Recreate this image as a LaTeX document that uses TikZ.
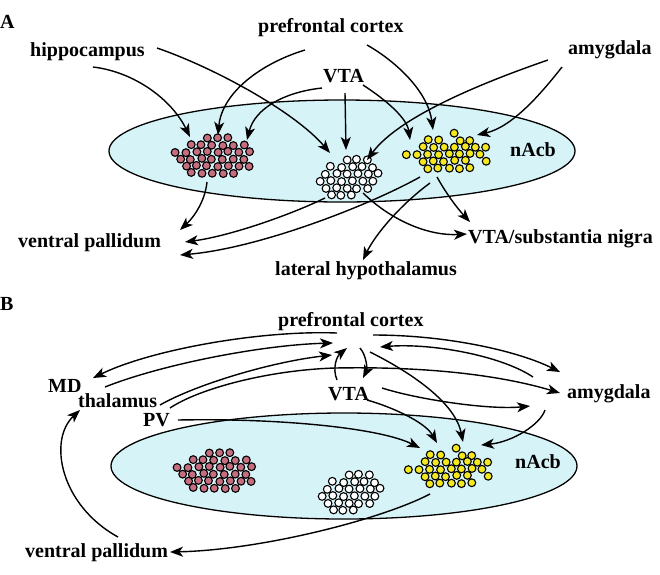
\documentclass[tikz,border=0pt]{standalone}
\usepackage{fontspec}
\setmainfont{Liberation Serif}
\usetikzlibrary{arrows.meta}
\definecolor{nacbfill}{RGB}{214,243,248}
\definecolor{reddot}{RGB}{198,110,128}
\definecolor{yeldot}{RGB}{245,232,30}
\tikzset{
 lbl/.style={font=\fontsize{20}{24}\selectfont\bfseries, inner sep=0pt, anchor=base west},
 arr/.style={line width=1.4pt, -{Stealth[length=13pt,width=10pt,inset=3.5pt]}},
 nacbshape/.style={fill=nacbfill, draw=black, line width=1.3pt},
 celldot/.style={draw=black, line width=1.1pt},
}
\newcommand{\mycellrow}[3]{%
 \foreach \cx in {#3} {\pgfmathsetmacro\jx{\cx+0.9*rand}\pgfmathsetmacro\jy{#2+0.8*rand}
 \draw[celldot, fill=#1] (\jx,\jy) circle[radius=3.9pt];}}
\newcommand{\myredcluster}{\pgfmathsetseed{11}%
 \mycellrow{reddot}{-17}{-5.25,5.25,15.75}
 \mycellrow{reddot}{-10}{-21,-10.5,0,10.5,21,31.5}
 \mycellrow{reddot}{-3}{-36.75,-26.25,-15.75,-5.25,5.25,15.75,26.25,36.75}
 \mycellrow{reddot}{4}{-31.5,-21,-10.5,0,10.5,21,31.5}
 \mycellrow{reddot}{11}{-26.25,-15.75,-5.25,5.25,15.75,26.25,36.75}
 \mycellrow{reddot}{18}{-21,-10.5,0,10.5,21}}
\newcommand{\mywhitecluster}{\pgfmathsetseed{5}%
 \mycellrow{white}{-17}{-5.25,5.25,15.75}
 \mycellrow{white}{-10}{-21,-10.5,0,10.5,21}
 \mycellrow{white}{-3}{-26.25,-15.75,-5.25,5.25,15.75,26.25}
 \mycellrow{white}{4}{-31.5,-21,-10.5,0,10.5,21}
 \mycellrow{white}{11}{-26.25,-15.75,-5.25,5.25,15.75}
 \mycellrow{white}{18}{-21,-10.5,0}}
\newcommand{\myyellowcluster}{\pgfmathsetseed{7}%
 \mycellrow{yeldot}{-18}{5.25}
 \mycellrow{yeldot}{-11}{-21,-10.5,10.5,21}
 \mycellrow{yeldot}{-4}{-26.25,-15.75,-5.25,5.25,15.75,26.25,36.75}
 \mycellrow{yeldot}{3}{-42,-31.5,-21,-10.5,0,10.5,21,31.5}
 \mycellrow{yeldot}{10}{-26.25,-15.75,-5.25,5.25,15.75,36.75}
 \mycellrow{yeldot}{17}{-21,-10.5,0,10.5,21}}
\begin{document}
\begin{tikzpicture}[x=1pt,y=-1pt]
\useasboundingbox (0,0) rectangle (660,574);
\fill[white] (0,0) rectangle (660,574);
% ===== Panel A =====
\draw[nacbshape] (342,151) ellipse [x radius=233pt, y radius=51pt];
\begin{scope}[shift={(212,155)}]\myredcluster\end{scope}
\begin{scope}[shift={(352,177)}]\mywhitecluster\end{scope}
\begin{scope}[shift={(449,151)}]\myyellowcluster\end{scope}

\node[lbl] (labA) at (0,28) {A};
\node[lbl] (pfcA) at (258,32) {prefrontal cortex};
\node[lbl] (hipA) at (30,56) {hippocampus};
\node[lbl] (amyA) at (568,54) {amygdala};
\node[lbl] (vtaA) at (323,82) {VTA};
\node[lbl] (nacbA) at (510,156) {nAcb};
\node[lbl] (vpA) at (18,247) {ventral pallidum};
\node[lbl] (vtasnA) at (468,243) {VTA/substantia nigra};
\node[lbl] (lhA) at (275,275) {lateral hypothalamus};

\coordinate (hipAa) at (93,67);   \coordinate (redAa) at (190,137);
\coordinate (hipAb) at (157,48);  \coordinate (whtAa) at (330,153);
\coordinate (pfcAa) at (305,50);  \coordinate (redAb) at (218,135);
\coordinate (vtaAa) at (322,88);  \coordinate (redAc) at (247,140);
\coordinate (vtaAb) at (345,93);  \coordinate (whtAb) at (346,150);
\coordinate (vtaAc) at (363,85);  \coordinate (yelAa) at (410,140);
\coordinate (pfcAb) at (367,45);  \coordinate (yelAb) at (433,130);
\coordinate (amyAa) at (548,60);  \coordinate (whtAc) at (367,160);
\coordinate (amyAb) at (562,67);  \coordinate (yelAc) at (477,135);
\coordinate (whtAd) at (363,193); \coordinate (snAa) at (467,234);
\coordinate (yelAd) at (437,177); \coordinate (snAb) at (470,222);
\coordinate (yelAe) at (430,183); \coordinate (lhAa) at (363,260);
\coordinate (whtAe) at (325,198); \coordinate (vpAa) at (185,242);
\coordinate (yelAf) at (420,177); \coordinate (vpAb) at (180,255);
\coordinate (redAd) at (207,182); \coordinate (vpAc) at (180,230);

\draw[arr] (hipAa) .. controls (135,72) and (172,100) .. (redAa);
\draw[arr] (hipAb) .. controls (215,68) and (295,112) .. (whtAa);
\draw[arr] (pfcAa) .. controls (262,63) and (222,92) .. (redAb);
\draw[arr] (vtaAa) .. controls (285,92) and (255,108) .. (redAc);
\draw[arr] (vtaAb) -- (whtAb);
\draw[arr] (vtaAc) .. controls (386,100) and (407,118) .. (yelAa);
\draw[arr] (pfcAb) .. controls (397,62) and (428,92) .. (yelAb);
\draw[arr] (amyAa) .. controls (490,80) and (400,115) .. (whtAc);
\draw[arr] (amyAb) .. controls (540,95) and (512,127) .. (yelAc);
\draw[arr] (whtAd) .. controls (393,222) and (430,236) .. (snAa);
\draw[arr] (yelAd) .. controls (447,195) and (458,209) .. (snAb);
\draw[arr] (yelAe) .. controls (400,205) and (375,235) .. (lhAa);
\draw[arr] (whtAe) .. controls (290,215) and (230,236) .. (vpAa);
\draw[arr] (yelAf) .. controls (370,205) and (260,248) .. (vpAb);
\draw[arr] (redAd) .. controls (205,202) and (193,218) .. (vpAc);

% ===== Panel B =====
\begin{scope}[shift={(2,315)}]
\draw[nacbshape] (342,151) ellipse [x radius=233pt, y radius=53pt];
\begin{scope}[shift={(212,155)}]\myredcluster\end{scope}
\begin{scope}[shift={(352,177)}]\mywhitecluster\end{scope}
\begin{scope}[shift={(449,151)}]\myyellowcluster\end{scope}
\end{scope}

\node[lbl] (labB) at (0,310) {B};
\node[lbl] (pfcB) at (278,326) {prefrontal cortex};
\node[lbl] (mdB) at (48,392) {MD};
\node[lbl] (thB) at (78,407) {thalamus};
\node[lbl] (pvB) at (143,426) {PV};
\node[lbl] (vtaB) at (328,400) {VTA};
\node[lbl] (amyB) at (567,398) {amygdala};
\node[lbl] (nacbB) at (515,468) {nAcb};
\node[lbl] (vpB) at (25,557) {ventral pallidum};

\coordinate (pfcBa) at (337,333); \coordinate (mdBa) at (93,378);
\coordinate (mdBb) at (105,387);  \coordinate (pfcBb) at (333,343);
\coordinate (thBa) at (160,405);  \coordinate (pfcBc) at (332,355);
\coordinate (thBb) at (170,408);  \coordinate (amyBa) at (560,393);
\coordinate (pvBa) at (178,420);  \coordinate (yelBa) at (420,448);
\coordinate (vtaBa) at (337,380); \coordinate (pfcBd) at (347,348);
\coordinate (pfcBe) at (360,348); \coordinate (vtaBb) at (363,378);
\coordinate (pfcBf) at (370,352); \coordinate (yelBb) at (463,442);
\coordinate (vtaBc) at (367,400); \coordinate (yelBc) at (437,443);
\coordinate (vtaBd) at (382,388); \coordinate (amyBb) at (530,406);
\coordinate (pfcBg) at (373,335); \coordinate (amyBc) at (560,372);
\coordinate (amyBd) at (533,377); \coordinate (pfcBh) at (380,347);
\coordinate (amyBe) at (545,410); \coordinate (yelBd) at (481,445);
\coordinate (yelBe) at (430,494); \coordinate (vpBa) at (170,552);
\coordinate (vpBb) at (118,537);  \coordinate (thBc) at (80,410);

\draw[arr] (pfcBa) .. controls (260,330) and (150,350) .. (mdBa);
\draw[arr] (mdBb) .. controls (160,365) and (260,345) .. (pfcBb);
\draw[arr] (thBa) .. controls (195,385) and (270,362) .. (pfcBc);
\draw[arr] (thBb) .. controls (200,388) and (270,370) .. (335,368) .. controls (440,366) and (510,378) .. (amyBa);
\draw[arr] (pvBa) .. controls (280,418) and (380,428) .. (yelBa);
\draw[arr] (vtaBa) .. controls (332,368) and (337,356) .. (pfcBd);
\draw[arr] (pfcBe) .. controls (367,356) and (367,370) .. (vtaBb);
\draw[arr] (pfcBf) .. controls (410,372) and (455,402) .. (yelBb);
\draw[arr] (vtaBc) .. controls (392,407) and (425,422) .. (yelBc);
\draw[arr] (vtaBd) .. controls (420,400) and (490,410) .. (amyBb);
\draw[arr] (pfcBg) .. controls (450,335) and (520,352) .. (amyBc);
\draw[arr] (amyBd) .. controls (500,355) and (430,343) .. (pfcBh);
\draw[arr] (amyBe) .. controls (540,425) and (512,442) .. (yelBd);
\draw[arr] (yelBe) .. controls (380,520) and (260,550) .. (vpBa);
\draw[arr] (vpBb) .. controls (60,505) and (48,440) .. (thBc);
\end{tikzpicture}
\end{document}
